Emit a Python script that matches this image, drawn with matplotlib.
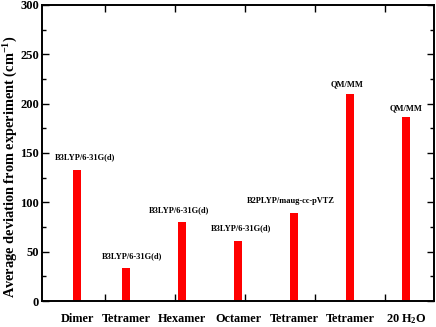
import numpy as np
import matplotlib
matplotlib.use("Agg")
import matplotlib.pyplot as plt
from matplotlib.ticker import MultipleLocator

plt.rcParams['font.family'] = 'Liberation Serif'
plt.rcParams['font.weight'] = 'bold'
plt.rcParams['mathtext.fontset'] = 'custom'
plt.rcParams['mathtext.rm'] = 'Liberation Serif:bold'
plt.rcParams['mathtext.bf'] = 'Liberation Serif:bold'
plt.rcParams['mathtext.default'] = 'bf'

# data
systems = ['Dimer', 'Tetramer', 'Hexamer', 'Octamer', 'Tetramer', 'Tetramer', '20 H$_2$O']
methods = ['B3LYP/6-31G(d)', 'B3LYP/6-31G(d)', 'B3LYP/6-31G(d)', 'B3LYP/6-31G(d)',
           'B2PLYP/maug-cc-pVTZ', 'QM/MM', 'QM/MM']
deviation = [133, 33, 80, 61, 89, 210, 186]
positions = [0.6, 1.3, 2.1, 2.9, 3.7, 4.5, 5.3]

# small horizontal shifts of the method labels (points)
label_dx = [6, 4, -2, 2, -2, -2, 0]
label_dy = [6, 6, 6, 6, 6, 4, 4]

fig = plt.figure(figsize=(4.36, 3.27), dpi=100)
ax = fig.add_axes([0.0963, 0.0795, 0.899, 0.9055])

ax.bar(positions, deviation, width=0.12, color='#ff0000', edgecolor='none')

for x, y, m, dx, dy in zip(positions, deviation, methods, label_dx, label_dy):
    ax.annotate(m, (x, y), xytext=(dx, dy), textcoords='offset points',
                ha='center', va='bottom', fontsize=6, fontweight='bold')

for x, s in zip(positions, systems):
    ax.text(x, -0.062, s, transform=ax.get_xaxis_transform(),
            ha='center', va='center', fontsize=8.8, fontweight='bold')

ax.set_xlim(0.1, 5.7)
ax.set_ylim(0, 300)
ax.set_xticks([1, 2, 3, 4, 5])
ax.set_xticklabels([])
ax.yaxis.set_major_locator(MultipleLocator(50))
ax.yaxis.set_minor_locator(MultipleLocator(25))
ax.tick_params(axis='both', which='both', direction='in', top=True, right=True)
ax.tick_params(axis='both', which='major', length=5, width=1)
ax.tick_params(axis='y', which='minor', length=3, width=1)
ax.tick_params(axis='y', labelsize=9, pad=2)
for lab in ax.get_yticklabels():
    lab.set_fontweight('bold')
for sp in ax.spines.values():
    sp.set_linewidth(1.4)

ax.set_ylabel('Average deviation from experiment (cm$^{-1}$)', fontsize=10.4,
              fontweight='bold')
ax.yaxis.label.set_verticalalignment('center')
ax.yaxis.set_label_coords(-0.08, 0.455)

fig.savefig('out.png', dpi=100)
